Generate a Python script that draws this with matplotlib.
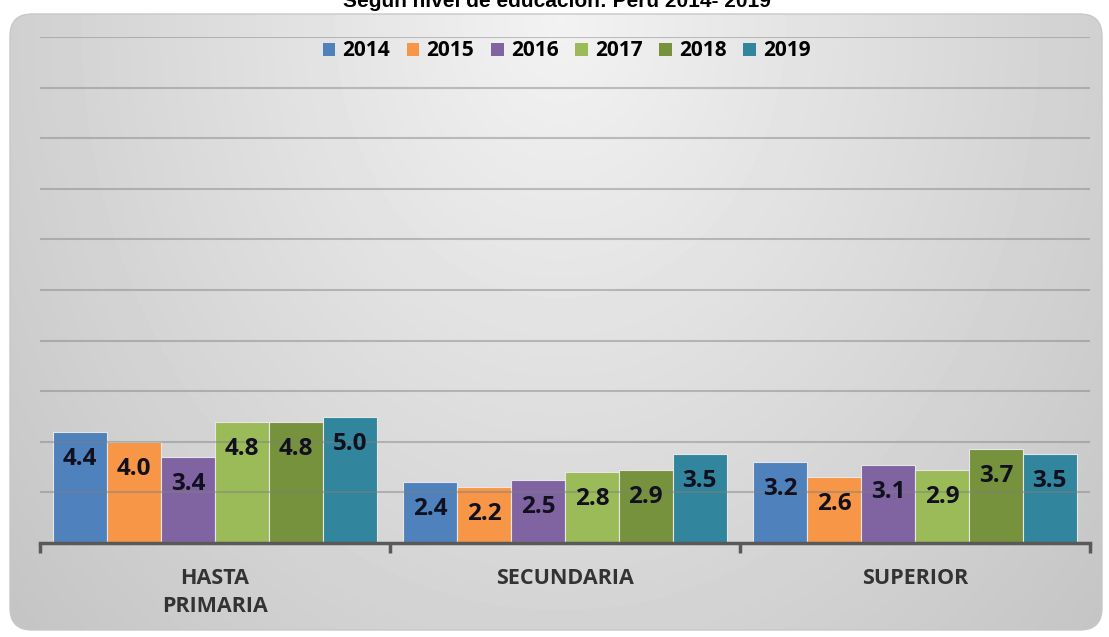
import numpy as np
import matplotlib
matplotlib.use("Agg")
import matplotlib.pyplot as plt
from matplotlib.patches import FancyBboxPatch, Patch

# ------------------------------------------------------------------ #
# Data                                                               #
# ------------------------------------------------------------------ #
categories = ["HASTA\nPRIMARIA", "SECUNDARIA", "SUPERIOR"]
years = ["2014", "2015", "2016", "2017", "2018", "2019"]
values = {
    "2014": [4.4, 2.4, 3.2],
    "2015": [4.0, 2.2, 2.6],
    "2016": [3.4, 2.5, 3.1],
    "2017": [4.8, 2.8, 2.9],
    "2018": [4.8, 2.9, 3.7],
    "2019": [5.0, 3.5, 3.5],
}
colours = ["#4F81BD", "#F79646", "#8064A2", "#9BBB59", "#76923C", "#31859C"]
title = "Según nivel de educación: Perú 2014- 2019"

FONT = "Open Sans"
W, H = 1109, 637
fig = plt.figure(figsize=(W / 100, H / 100), dpi=100)
fig.patch.set_facecolor("white")

# ------------------------------------------------------------------ #
# Rounded gradient background                                        #
# ------------------------------------------------------------------ #
bg = fig.add_axes([0, 0, 1, 1], zorder=0)
bg.set_xlim(0, W)
bg.set_ylim(H, 0)
bg.axis("off")
yy, xx = np.mgrid[0:H, 0:W]
d = np.sqrt(((xx - 560) / 650.0) ** 2 + ((yy - 20) / 800.0) ** 2)
grad = np.clip(0.95 - 0.16 * d, 0, 1)
img = bg.imshow(grad, cmap="gray", vmin=0, vmax=1, extent=(0, W, H, 0),
                interpolation="bilinear", aspect="auto")
box = FancyBboxPatch((10, 14), 1092, 616, boxstyle="round,pad=0,rounding_size=22",
                     facecolor="none", edgecolor="#c8c8c8", linewidth=1.0,
                     transform=bg.transData)
bg.add_patch(box)
img.set_clip_path(box)

# ------------------------------------------------------------------ #
# Bars                                                               #
# ------------------------------------------------------------------ #
ax = fig.add_axes([40 / W, (H - 543) / H, 1050 / W, 506 / H], zorder=1)
ax.patch.set_alpha(0)

x = np.arange(len(categories))
bw = 0.154
n = len(years)
for i, (yr, col) in enumerate(zip(years, colours)):
    pos = x + (i - (n - 1) / 2) * bw
    bars = ax.bar(pos, values[yr], width=bw, color=col, edgecolor="#e6e6e6",
                  linewidth=0.8, zorder=2, label=yr)
    for b, v in zip(bars, values[yr]):
        ax.annotate(f"{v:.1f}", xy=(b.get_x() + b.get_width() / 2, v),
                    xytext=(0, -27), textcoords="offset pixels",
                    ha="center", va="center", fontsize=17.5,
                    fontweight="bold", family=FONT, color="#10101e", zorder=4)

for g in range(2, 21, 2):
    ax.axhline(g, color="#7f7f7f", alpha=0.45, linewidth=1.5, zorder=3)

ax.set_xlim(-0.5, 2.5)
ax.set_ylim(0, 20)
for s in ["left", "right", "top"]:
    ax.spines[s].set_visible(False)
ax.spines["bottom"].set_color("#595959")
ax.spines["bottom"].set_linewidth(2.5)
ax.spines["bottom"].set_zorder(5)
ax.set_yticks([])
ax.set_xticks(x)
ax.set_xticklabels(categories, fontsize=15.5, fontweight="bold", family=FONT,
                   color="#333333", linespacing=1.45)
ax.tick_params(axis="x", which="major", length=0, pad=18)
ax.set_xticks([-0.5, 0.5, 1.5, 2.5], minor=True)
ax.tick_params(axis="x", which="minor", length=7, width=2.5, color="#595959",
               direction="out")

handles = [Patch(facecolor=c, label=y) for y, c in zip(years, colours)]
fig.legend(handles=handles, loc="center", bbox_to_anchor=(0.511, 1 - 51 / H),
           ncol=6, frameon=False, handlelength=0.6, handleheight=0.6,
           handletextpad=0.35, columnspacing=0.8,
           prop={"family": FONT, "weight": "bold", "size": 15})

fig.text(0.502, 1 - 7 / H, title, ha="center", va="baseline", fontsize=15,
         fontweight="bold", family="Liberation Sans", color="black")

plt.savefig("out.png", dpi=100)
